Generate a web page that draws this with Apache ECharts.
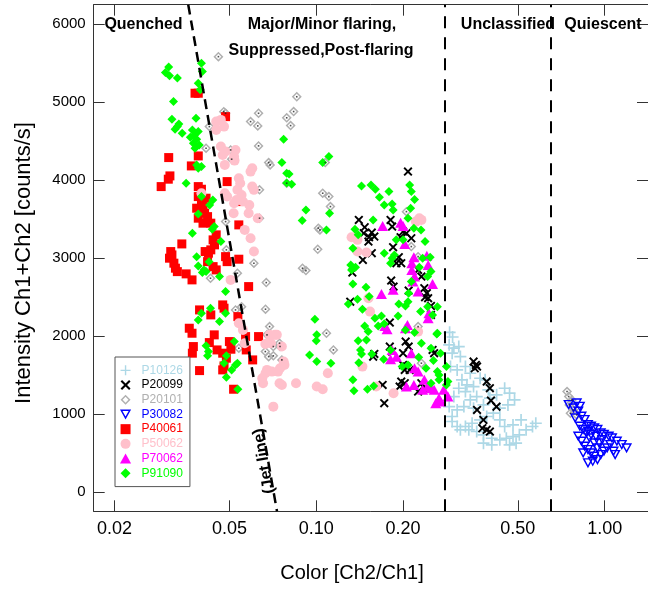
<!DOCTYPE html>
<html>
<head>
<meta charset="utf-8">
<script src="https://cdn.jsdelivr.net/npm/echarts@6/dist/echarts.min.js"></script>
<style>
  html, body { margin: 0; padding: 0; background: #fff; }
  #chart { width: 648px; height: 594px; }
</style>
</head>
<body>
<div id="chart"></div>
<script>
// axis ranges and tick marks
const xRange = [0.016925, 1.413];
const yRange = [-245, 6250];
const xTicks = [0.02, 0.05, 0.1, 0.2, 0.5, 1.0];
const yTicks = [0, 1000, 2000, 3000, 4000, 5000, 6000];

// state boundaries (colour) and the jet line end points
const boundaries = [0.28, 0.65];
const jetLine = [[0.0360, 6250], [0.0731, -245]];

// observations: [color, intensity]
const p10126 = [
  [0.289, 1889], [0.300, 1846], [0.312, 1867], [0.296, 1782], [0.316, 1739], [0.292, 1611],
  [0.308, 1568], [0.329, 1611], [0.342, 1525], [0.320, 1440], [0.333, 1376], [0.351, 1354],
  [0.370, 1461], [0.385, 1440], [0.395, 1312], [0.360, 1226], [0.342, 1184], [0.329, 1290],
  [0.312, 1333], [0.300, 1226], [0.289, 1098], [0.296, 970], [0.308, 1055], [0.325, 1098],
  [0.351, 1077], [0.380, 1119], [0.400, 1205], [0.422, 1248], [0.450, 1333], [0.468, 1269],
  [0.487, 1184], [0.462, 1119], [0.433, 1077], [0.411, 1013], [0.390, 970], [0.370, 927],
  [0.347, 884], [0.329, 842], [0.308, 842], [0.296, 906], [0.316, 799], [0.338, 799],
  [0.360, 778], [0.380, 735], [0.406, 692], [0.433, 671], [0.456, 692], [0.481, 713],
  [0.506, 735], [0.534, 799], [0.562, 842], [0.577, 884], [0.493, 628], [0.468, 607],
  [0.406, 607], [0.380, 628], [0.513, 927], [0.433, 927], [0.450, 842], [0.481, 863],
  [0.290, 2050], [0.297, 1990]
];
const p20099 = [
  [0.208, 4110], [0.1405, 3491], [0.1472, 3397], [0.1461, 3320], [0.1558, 3329], [0.1525, 3269],
  [0.159, 3277], [0.1517, 3213], [0.181, 3491], [0.1833, 3406], [0.200, 3341], [0.1961, 3269],
  [0.2054, 3320], [0.2136, 3256], [0.1451, 2978], [0.1558, 3064], [0.1847, 3141], [0.1933, 3013],
  [0.1897, 2936], [0.1971, 2936], [0.1334, 2815], [0.2255, 2850], [0.2315, 2764], [0.1819, 2713],
  [0.1854, 2636], [0.2091, 2585], [0.237, 2615], [0.2418, 2551], [0.2443, 2487], [0.2384, 2500],
  [0.2499, 2388], [0.1312, 2443], [0.2499, 2273], [0.1799, 2174], [0.159, 1773], [0.1575, 1738],
  [0.1799, 1867], [0.1833, 1803], [0.2042, 1931], [0.2091, 1867], [0.200, 1782], [0.2531, 1824],
  [0.2563, 1782], [0.200, 1632], [0.2054, 1610], [0.2027, 1568], [0.2108, 1568], [0.1699, 1375],
  [0.1971, 1418], [0.2027, 1397], [0.1946, 1354], [0.2255, 1290], [0.2315, 1397], [0.237, 1333],
  [0.1721, 1141], [0.3511, 1674], [0.3576, 1632], [0.3544, 1589], [0.361, 1610], [0.3898, 1418],
  [0.3999, 1333], [0.4034, 1174], [0.4215, 1097], [0.361, 1055], [0.3798, 927], [0.3765, 820],
  [0.3898, 799], [0.3999, 777]
];
const p20101 = [
  [0.0458, 5584], [0.0856, 5070], [0.079, 4800], [0.0835, 4880], [0.0815, 4700], [0.0478, 4879],
  [0.0485, 4858], [0.0592, 4751], [0.0631, 4858], [0.0627, 4696], [0.0426, 4687], [0.0415, 4410],
  [0.0505, 4388], [0.0509, 4269], [0.0631, 4440], [0.0684, 4226], [0.0692, 4196], [0.0636, 3876],
  [0.0636, 3513], [0.0485, 3469], [0.0488, 3107], [0.0533, 2808], [0.0608, 2936], [0.0671, 2687],
  [0.0525, 2337], [0.0551, 2379], [0.0667, 2346], [0.0689, 2123], [0.0675, 2017], [0.071, 1867],
  [0.0746, 1910], [0.0666, 1803], [0.0684, 1738], [0.071, 1748], [0.0539, 1846], [0.043, 2743],
  [0.1075, 4226], [0.079, 3961], [0.1053, 3833], [0.1106, 3790], [0.112, 3662], [0.1017, 3385],
  [0.103, 3363], [0.1012, 3115], [0.0896, 2872], [0.0921, 2841], [0.1085, 2038], [0.1147, 1824],
  [0.0749, 1867], [0.076, 1696], [0.2054, 3597], [0.2136, 3149], [0.2255, 3020], [0.2255, 2123],
  [0.2315, 1654], [0.7404, 1290], [0.7503, 1226], [0.7697, 1183], [0.7533, 1119], [0.7797, 1055],
  [0.7998, 991], [0.7603, 1013]
];
const p30082 = [
  [0.750, 1119], [0.780, 1077], [0.810, 1033], [0.831, 969], [0.852, 927], [0.875, 863],
  [0.897, 841], [0.920, 820], [0.944, 799], [0.969, 756], [0.994, 735], [1.033, 713],
  [1.060, 692], [1.102, 649], [1.146, 606], [1.191, 564], [0.810, 713], [0.831, 649],
  [0.852, 585], [0.875, 542], [0.897, 500], [0.920, 456], [0.944, 414], [0.875, 372],
  [0.909, 392], [0.969, 478], [0.994, 521], [1.020, 564], [1.046, 606], [1.073, 521],
  [1.087, 478], [0.842, 500], [0.864, 756], [0.932, 713], [0.956, 628], [0.981, 670],
  [0.790, 948], [0.820, 841], [0.842, 799], [0.886, 692], [0.920, 628], [0.944, 564],
  [0.800, 1141], [0.820, 1097], [0.875, 777], [0.897, 735]
];
const p40061 = [
  [0.039, 5115], [0.038, 5115], [0.0485, 4815], [0.0308, 4290], [0.039, 4311], [0.0369, 4183],
  [0.0311, 4055], [0.0307, 4013], [0.029, 3918], [0.0491, 3982], [0.039, 3918], [0.040, 3884],
  [0.039, 3790], [0.040, 3705], [0.0385, 3641], [0.0405, 3662], [0.0415, 3769], [0.041, 3577],
  [0.0533, 3726], [0.039, 3513], [0.0405, 3449], [0.0431, 3449], [0.042, 3533], [0.0539, 3427],
  [0.045, 3299], [0.0439, 3235], [0.0444, 3171], [0.0431, 3107], [0.0423, 3064], [0.0342, 3183],
  [0.0313, 3085], [0.0316, 3042], [0.031, 3000], [0.0321, 2936], [0.0325, 2872], [0.033, 2828],
  [0.0354, 2799], [0.0371, 2722], [0.0412, 3085], [0.042, 2956], [0.0439, 2892], [0.045, 2850],
  [0.0485, 3020], [0.0491, 2956], [0.0539, 2987], [0.0583, 2636], [0.0394, 2337], [0.0431, 2273],
  [0.0474, 2401], [0.0479, 2359], [0.0535, 2251], [0.0363, 2102], [0.0371, 2038], [0.0375, 1867],
  [0.0372, 1782], [0.0443, 2017], [0.0426, 1918], [0.0453, 1824], [0.050, 1931], [0.0506, 1833],
  [0.0474, 1782], [0.0488, 1718], [0.0569, 1995], [0.0602, 1696], [0.0631, 1995], [0.0394, 1559],
  [0.0474, 1568], [0.0479, 1619], [0.0517, 1320], [0.0572, 1824]
];
const p50062 = [
  [0.045, 4751], [0.0467, 4773], [0.0479, 4687], [0.045, 4645], [0.0467, 4431], [0.0485, 4367],
  [0.0474, 4324], [0.0525, 4388], [0.0519, 4302], [0.0521, 4251], [0.0482, 4196], [0.060, 4154],
  [0.0592, 4110], [0.0539, 4026], [0.0545, 3961], [0.0533, 3876], [0.0482, 3833], [0.0491, 3790],
  [0.060, 3918], [0.0608, 3876], [0.0551, 3811], [0.0557, 3726], [0.0586, 3683], [0.0583, 3577],
  [0.0519, 3705], [0.0529, 3747], [0.0627, 3513], [0.0517, 3577], [0.0565, 3363], [0.0592, 3256],
  [0.0608, 3085], [0.0505, 2722], [0.0539, 2167], [0.0557, 2081], [0.0689, 2017], [0.0719, 2017],
  [0.0666, 1901], [0.0697, 1910], [0.0565, 1910], [0.0675, 1568], [0.0702, 1546], [0.0737, 1546],
  [0.0667, 1525], [0.065, 1461], [0.0654, 1397], [0.0746, 1397], [0.0776, 1632], [0.071, 1097],
  [0.040, 3833], [0.073, 2017], [0.076, 1867], [0.0771, 1674], [0.0749, 1589], [0.076, 1375],
  [0.0851, 1397], [0.1004, 1354], [0.1053, 1320], [0.1097, 1525], [0.1326, 3269], [0.139, 3235],
  [0.139, 3085], [0.1493, 3072], [0.1517, 2487], [0.1536, 2315], [0.2277, 3513], [0.2215, 3469],
  [0.2255, 2059], [0.2315, 3491], [0.1446, 1610], [0.1854, 1269], [0.1614, 1354]
];
const p70062 = [
  [0.1699, 3414], [0.1961, 3456], [0.200, 3414], [0.2027, 3183], [0.218, 3013], [0.2145, 2936],
  [0.2418, 3030], [0.2443, 2914], [0.2145, 2850], [0.2192, 2764], [0.2164, 2700], [0.2531, 2670],
  [0.1847, 2594], [0.1683, 2542], [0.2255, 2572], [0.2443, 2231], [0.2459, 2295], [0.176, 2090],
  [0.173, 2132], [0.2038, 2102], [0.2071, 2145], [0.181, 1705], [0.1897, 1738], [0.1833, 1824],
  [0.2136, 1782], [0.2192, 1589], [0.2255, 1546], [0.2054, 1354], [0.218, 1375], [0.237, 1440],
  [0.2433, 1354], [0.2499, 1333], [0.2338, 1312], [0.2563, 1312], [0.2664, 1205], [0.2767, 1312],
  [0.2698, 1162], [0.2596, 1141], [0.2862, 1226]
];
const p91090 = [
  [0.0308, 5452], [0.030, 5380], [0.031, 5340], [0.033, 5310], [0.040, 5500], [0.0403, 5392],
  [0.039, 5243], [0.0396, 5158], [0.032, 5008], [0.0316, 4782], [0.033, 4687], [0.0324, 4654],
  [0.0343, 4602], [0.0334, 4722], [0.0383, 4795], [0.0372, 4645], [0.039, 4624], [0.0378, 4581],
  [0.0366, 4552], [0.0385, 4526], [0.0375, 4474], [0.0393, 4452], [0.038, 4410], [0.0385, 4196],
  [0.040, 4174], [0.039, 4154], [0.0354, 3961], [0.040, 3790], [0.0438, 3747], [0.0427, 3683],
  [0.039, 3568], [0.0443, 3405], [0.0436, 3372], [0.0372, 3320], [0.0467, 3213], [0.0385, 3020],
  [0.0425, 2956], [0.039, 2901], [0.0408, 2850], [0.0403, 2815], [0.0415, 2828], [0.0462, 2764],
  [0.0485, 2572], [0.043, 2359], [0.040, 2295], [0.0485, 2295], [0.039, 2209], [0.0462, 2187],
  [0.0415, 1876], [0.0423, 1803], [0.042, 1748], [0.052, 1931], [0.0488, 1748], [0.0479, 1654],
  [0.0525, 1632], [0.0533, 1654], [0.0509, 1568], [0.0488, 1474], [0.0535, 1320], [0.0771, 4526],
  [0.079, 3965], [0.076, 4226], [0.079, 4090], [0.0805, 4081], [0.0822, 3949], [0.1053, 4226],
  [0.1106, 4303], [0.0921, 3619], [0.0894, 3482], [0.1085, 3363], [0.1112, 3577], [0.0989, 2218],
  [0.1004, 2017], [0.100, 1943], [0.0948, 1760], [0.1004, 1674], [0.1124, 1654],
  [0.1435, 3927], [0.1548, 3940], [0.1603, 3884], [0.1656, 3782], [0.1787, 3854], [0.1721, 3683],
  [0.1833, 3696], [0.1847, 3619], [0.2108, 3940], [0.2136, 3854], [0.2192, 3751], [0.2124, 3641],
  [0.208, 3513], [0.218, 3385], [0.2308, 3363], [0.1362, 3372], [0.1398, 3299], [0.1575, 3491],
  [0.134, 3128], [0.1317, 2914], [0.1368, 2884], [0.1326, 2850], [0.1721, 3064], [0.1833, 3000],
  [0.181, 2936], [0.1866, 3042], [0.1894, 3235], [0.200, 3235], [0.2384, 3213], [0.2338, 3000],
  [0.2483, 3013], [0.2277, 2884], [0.2433, 2764], [0.2499, 2828], [0.134, 2670], [0.1488, 2628],
  [0.1292, 2414], [0.139, 2474], [0.1446, 2346], [0.1525, 2508], [0.1598, 2231], [0.1683, 2260],
  [0.164, 2132], [0.1721, 2158], [0.1472, 2132], [0.1514, 2059], [0.1493, 1952], [0.1398, 1943],
  [0.1424, 1824], [0.1435, 1773], [0.1405, 1661], [0.1558, 1773], [0.134, 1440], [0.1351, 1302],
  [0.1505, 1320], [0.1582, 1363], [0.1713, 1705], [0.181, 1824], [0.1933, 2414], [0.2038, 2388],
  [0.1922, 2260], [0.208, 2443], [0.2136, 2700], [0.2091, 2551], [0.230, 2315], [0.2433, 2379],
  [0.2531, 2273], [0.263, 2379], [0.2038, 2081], [0.2192, 2046], [0.2315, 1911], [0.2499, 1846],
  [0.2617, 2029], [0.1985, 1610], [0.208, 1632], [0.2402, 1589], [0.2549, 1687], [0.263, 1546],
  [0.2664, 1440], [0.2499, 1397], [0.2826, 1375], [0.2266, 1731], [0.263, 2038], [0.2826, 1610],
  [0.2862, 1418], [0.2698, 1782], [0.2664, 1504]
];

const names = ['P10126', 'P20099', 'P20101', 'P30082', 'P40061', 'P50062', 'P70062', 'P91090'];
const dataSets = [p10126, p20099, p20101, p30082, p40061, p50062, p70062, p91090];
const colors = ['#add8e6', '#000000', '#b0b0b0', '#0000ff', '#ff0000', '#ffc0cb', '#ff00ff', '#00ff00'];
const symbols = [
  'path://M4.3,0h1.4v4.3h4.3v1.4h-4.3v4.3h-1.4v-4.3h-4.3v-1.4h4.3z',
  'path://M1.5,0L5,3.5L8.5,0L10,1.5L6.5,5L10,8.5L8.5,10L5,6.5L1.5,10L0,8.5L3.5,5L0,1.5Z',
  'path://M5,0L10,5L5,10L0,5Z M5,2.1L2.1,5L5,7.9L7.9,5Z',
  'path://M0,0L10,0L5,9Z M2.21,1.3L5,6.32L7.79,1.3Z',
  'path://M0,0H10V10H0Z',
  'path://M0,5A5,5,0,1,0,10,5A5,5,0,1,0,0,5Z',
  'path://M5,0L10,9L0,9Z',
  'path://M5,0L10,5L5,10L0,5Z'
];
const sizes = [12, 9, 10, [11, 10], 9, 10, [11, 10], 9];

const font = '"Liberation Sans", Arial, sans-serif';
const frame = '#333';
const lx = v => Math.log10(v);

const chart = echarts.init(document.getElementById('chart'), null, { renderer: 'canvas' });

const series = names.map((name, i) => ({
  name: name,
  type: 'scatter',
  data: dataSets[i],
  symbol: symbols[i],
  symbolSize: sizes[i],
  itemStyle: { color: colors[i], opacity: 1 },
  emphasis: { disabled: true },
  silent: true
}));

// small dark centre in the P20101 diamonds
series.push({
  name: 'p20101-dot',
  type: 'scatter',
  data: p20101,
  symbol: 'rect',
  symbolSize: 1.6,
  itemStyle: { color: '#222' },
  silent: true
});

series.push({
  name: 'jet',
  type: 'line',
  data: jetLine,
  symbol: 'none',
  lineStyle: { color: '#000', width: 2.5, type: [10, 6] },
  silent: true,
  z: 5,
  markLine: {
    silent: true,
    symbol: ['none', 'none'],
    label: { show: false },
    lineStyle: { color: '#000', width: 2, type: [12, 9] },
    data: boundaries.map(b => ({ xAxis: b }))
  }
});

const option = {
  animation: false,
  backgroundColor: '#fff',
  textStyle: { fontFamily: font },
  grid: { left: 93.7, top: 4.7, width: 563.6, height: 506.6 },
  xAxis: [
    {
      type: 'log', logBase: 10, min: xRange[0], max: xRange[1], position: 'top',
      axisLine: { show: true, onZero: false, lineStyle: { color: frame, width: 1 } },
      axisTick: { show: false }, axisLabel: { show: false }, splitLine: { show: false }
    },
    {
      type: 'value', min: lx(xRange[0]), max: lx(xRange[1]), position: 'bottom',
      axisLine: { show: true, onZero: false, lineStyle: { color: frame, width: 1 } },
      axisTick: { show: true, inside: true, length: 11, customValues: xTicks.map(lx), lineStyle: { color: frame } },
      axisLabel: {
        show: true, customValues: xTicks.map(lx), margin: 9, fontSize: 18, color: '#000',
        formatter: v => Math.pow(10, v).toFixed(2)
      },
      splitLine: { show: false }
    },
    {
      type: 'value', min: lx(xRange[0]), max: lx(xRange[1]), position: 'top',
      axisLine: { show: false, onZero: false },
      axisTick: { show: true, inside: true, length: 11, customValues: xTicks.map(lx), lineStyle: { color: frame } },
      axisLabel: { show: false }, splitLine: { show: false }
    }
  ],
  yAxis: [
    {
      type: 'value', min: yRange[0], max: yRange[1], position: 'left',
      axisLine: { show: true, onZero: false, lineStyle: { color: frame, width: 1 } },
      axisTick: { show: true, inside: true, length: 11, customValues: yTicks, lineStyle: { color: frame } },
      axisLabel: {
        show: true, customValues: yTicks, margin: 8, fontSize: 15, color: '#000',
        formatter: v => String(v)
      },
      splitLine: { show: false }
    },
    {
      type: 'value', min: yRange[0], max: yRange[1], position: 'right',
      axisLine: { show: true, onZero: false, lineStyle: { color: frame, width: 1 } },
      axisTick: { show: true, inside: true, length: 11, customValues: yTicks, lineStyle: { color: frame } },
      axisLabel: { show: false }, splitLine: { show: false }
    }
  ],
  legend: {
    orient: 'vertical', left: 115, top: 357,
    itemWidth: 22, itemHeight: 10, itemGap: 0,
    padding: [6, 7, 6, 5],
    backgroundColor: '#fff', borderColor: '#555', borderWidth: 1,
    selectedMode: false,
    textStyle: { fontSize: 12, lineHeight: 14.7, fontFamily: font },
    data: names.map((n, i) => ({ name: n, textStyle: { color: colors[i] } }))
  },
  graphic: [
    { type: 'text', x: 143.5, y: 25, z: 100, style: { text: 'Quenched', font: 'bold 16px ' + font, fill: '#000', align: 'center', verticalAlign: 'middle' } },
    { type: 'text', x: 322, y: 24.5, z: 100, style: { text: 'Major/Minor flaring,', font: 'bold 16px ' + font, fill: '#000', align: 'center', verticalAlign: 'middle' } },
    { type: 'text', x: 321, y: 51, z: 100, style: { text: 'Suppressed,Post-flaring', font: 'bold 16px ' + font, fill: '#000', align: 'center', verticalAlign: 'middle' } },
    { type: 'text', x: 508, y: 25, z: 100, style: { text: 'Unclassified', font: 'bold 16px ' + font, fill: '#000', align: 'center', verticalAlign: 'middle' } },
    { type: 'text', x: 603, y: 25, z: 100, style: { text: 'Quiescent', font: 'bold 16px ' + font, fill: '#000', align: 'center', verticalAlign: 'middle' } },
    { type: 'text', x: 264, y: 461, z: 100, rotation: 100 * Math.PI / 180, style: { text: '(Jet line)', font: 'bold 16px ' + font, fill: '#000', align: 'center', verticalAlign: 'middle' } },
    { type: 'text', x: 352, y: 573.5, z: 100, style: { text: 'Color [Ch2/Ch1]', font: '20px ' + font, fill: '#000', align: 'center', verticalAlign: 'middle' } },
    { type: 'text', x: 23.5, y: 263, z: 100, rotation: Math.PI / 2, style: { text: 'Intensity Ch1+Ch2 [counts/s]', font: '22px ' + font, fill: '#000', align: 'center', verticalAlign: 'middle' } }
  ],
  series: series
};

chart.setOption(option);
</script>
</body>
</html>
